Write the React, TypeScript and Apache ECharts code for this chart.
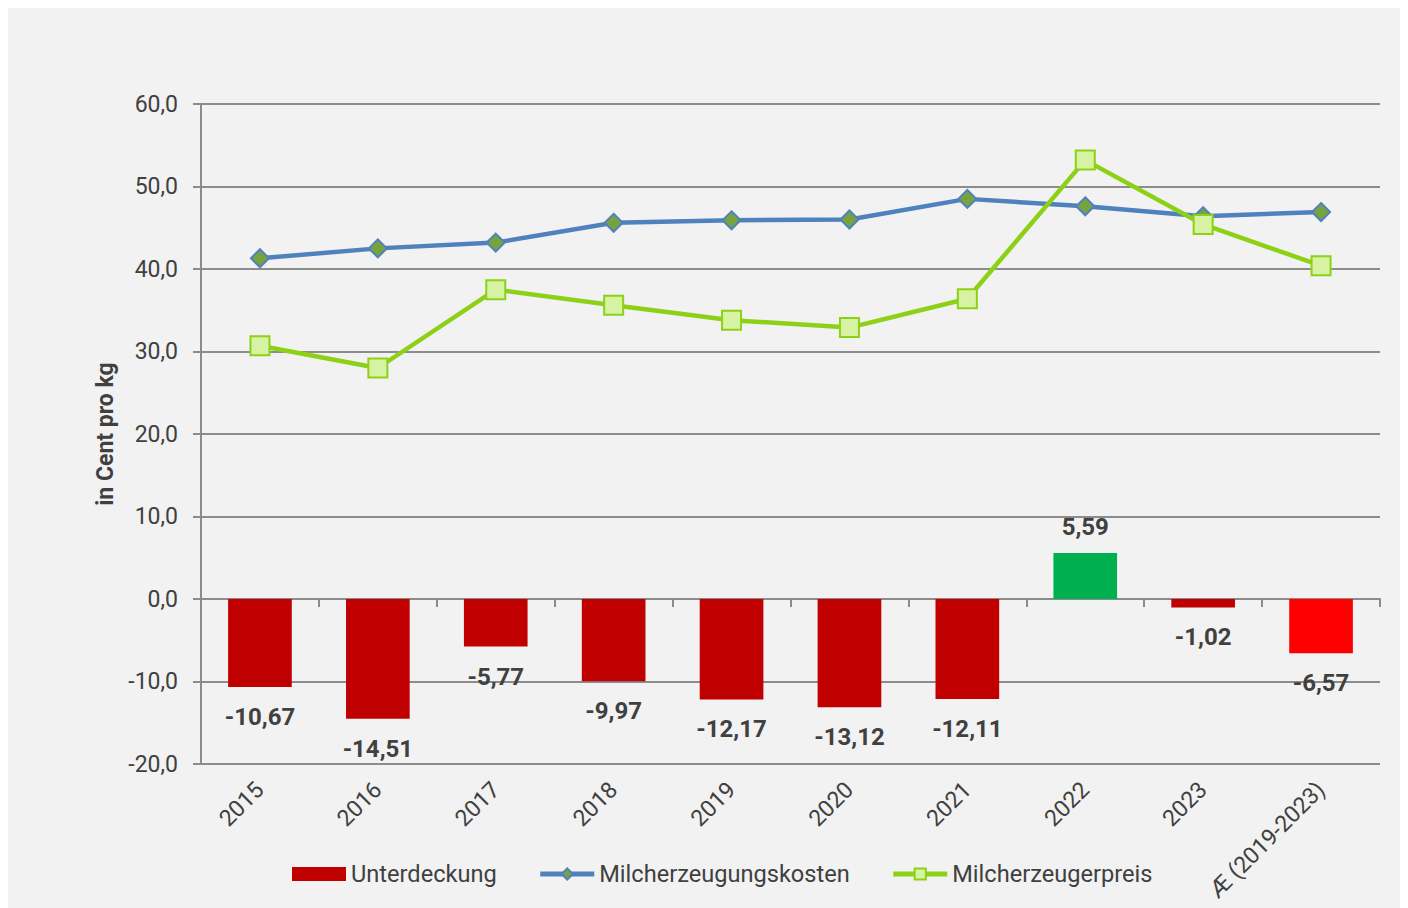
import React, { useEffect, useRef } from "react";
import * as echarts from "echarts";

const categories = ["2015", "2016", "2017", "2018", "2019", "2020", "2021", "2022", "2023", "Æ (2019-2023)"];
const unterdeckung = [-10.67, -14.51, -5.77, -9.97, -12.17, -13.12, -12.11, 5.59, -1.02, -6.57];
const kosten = [41.3, 42.5, 43.2, 45.6, 45.9, 46.0, 48.5, 47.6, 46.4, 46.9];
const preis = [30.7, 28.0, 37.5, 35.6, 33.8, 32.9, 36.4, 53.2, 45.4, 40.4];
const barColors = ["#c00000", "#c00000", "#c00000", "#c00000", "#c00000", "#c00000", "#c00000", "#00b050", "#c00000", "#ff0000"];

const fmt = (v: number, d: number) => v.toFixed(d).replace(".", ",");

export default function App() {
  const ref = useRef<HTMLDivElement>(null);
  useEffect(() => {
    if (!ref.current) return;
    const chart = echarts.init(ref.current, null, { renderer: "svg" });
    const font = "Roboto, 'Noto Sans', sans-serif";
    const textColor = "#404040";
    const gridColor = "#8c8c8c";
    chart.setOption({
      animation: false,
      backgroundColor: "#f2f2f2",
      textStyle: { fontFamily: font },
      grid: { left: 193, right: 28, top: 96, bottom: 144 },
      legend: {
        left: 279,
        top: 849,
        itemWidth: 54,
        itemHeight: 14,
        itemGap: 41,
        textStyle: { fontSize: 23.6, color: textColor, fontFamily: font },
        data: [
          { name: "Unterdeckung", icon: "rect", itemStyle: { color: "#c00000" } },
          { name: "Milcherzeugungskosten", lineStyle: { width: 5 } },
          { name: "Milcherzeugerpreis", lineStyle: { width: 5 } },
        ],
      },
      xAxis: [
        {
          type: "category",
          data: categories,
          position: "bottom",
          axisLine: { onZero: true, lineStyle: { color: gridColor, width: 2 } },
          axisTick: { show: true, length: 8, lineStyle: { color: gridColor, width: 2 } },
          axisLabel: { show: false },
        },
        {
          type: "category",
          data: categories,
          position: "bottom",
          axisLine: { show: false, onZero: false },
          axisTick: { show: false },
          axisLabel: {
            rotate: 45,
            margin: 22,
            fontSize: 23,
            color: textColor,
            fontFamily: font,
            interval: 0,
          },
        },
      ],
      yAxis: {
        type: "value",
        min: -20,
        max: 60,
        interval: 10,
        name: "in Cent pro kg",
        nameLocation: "middle",
        nameRotate: 90,
        nameGap: 84,
        nameTextStyle: { fontSize: 23, fontWeight: "bold", color: textColor, fontFamily: font },
        axisLine: { show: true, lineStyle: { color: gridColor, width: 2 } },
        axisTick: { show: true, length: 8, lineStyle: { color: gridColor, width: 2 } },
        splitLine: { show: true, lineStyle: { color: gridColor, width: 2 } },
        axisLabel: {
          fontSize: 23,
          color: textColor,
          margin: 23,
          fontFamily: font,
          formatter: (v: number) => fmt(v, 1),
        },
      },
      series: [
        {
          name: "Unterdeckung",
          type: "bar",
          barWidth: "54%",
          data: unterdeckung.map((v, i) => ({
            value: v,
            itemStyle: { color: barColors[i] },
            label: { position: v >= 0 ? "top" : "bottom", distance: v >= 0 ? 14 : 18 },
          })),
          label: {
            show: true,
            fontSize: 24,
            fontWeight: "bold",
            color: textColor,
            fontFamily: font,
            formatter: (p: any) => fmt(p.value, 2),
          },
          z: 3,
        },
        {
          name: "Milcherzeugungskosten",
          type: "line",
          data: kosten,
          symbol: "diamond",
          symbolSize: 18,
          lineStyle: { color: "#4f81bd", width: 4.5 },
          itemStyle: { color: "#77a33f", borderColor: "#4f81bd", borderWidth: 2 },
          z: 4,
        },
        {
          name: "Milcherzeugerpreis",
          type: "line",
          data: preis,
          symbol: "rect",
          symbolSize: 19,
          lineStyle: { color: "#8dd117", width: 4.5 },
          itemStyle: { color: "#d8f2a4", borderColor: "#8dd117", borderWidth: 2 },
          z: 5,
        },
      ],
    });
    return () => chart.dispose();
  }, []);
  return <div ref={ref} style={{ width: 1400, height: 900 }} />;
}
